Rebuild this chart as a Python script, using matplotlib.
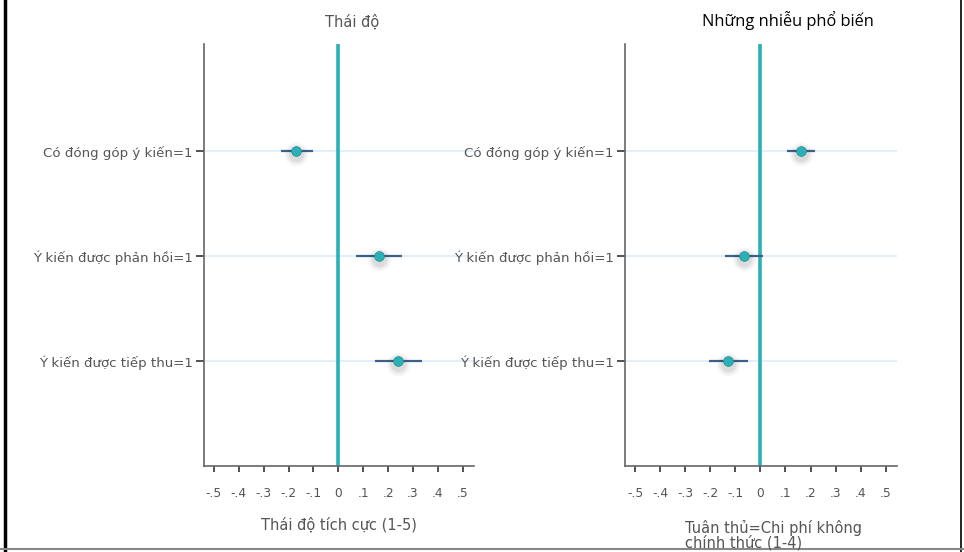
import matplotlib
matplotlib.use("Agg")
import matplotlib.pyplot as plt
from matplotlib.lines import Line2D
import numpy as np

plt.rcParams['font.family'] = ['DejaVu Sans']

categories = ["Có đóng góp ý kiến=1", "Ý kiến được phản hồi=1", "Ý kiến được tiếp thu=1"]
left_est = [-0.17, 0.165, 0.24]
left_lo = [-0.23, 0.072, 0.148]
left_hi = [-0.10, 0.256, 0.336]
right_est = [0.163, -0.067, -0.13]
right_lo = [0.106, -0.14, -0.205]
right_hi = [0.217, 0.01, -0.051]
xticks = [-0.5, -0.4, -0.3, -0.2, -0.1, 0, 0.1, 0.2, 0.3, 0.4, 0.5]
xticklabels = ["-.5", "-.4", "-.3", "-.2", "-.1", "0", ".1", ".2", ".3", ".4", ".5"]
left_title = "Thái độ"
right_title = "Những nhiễu phổ biến"
left_xlabel = "Thái độ tích cực (1-5)"
right_xlabel = "Tuân thủ=Chi phí không\nchính thức (1-4)"

W, H = 964, 552
fig = plt.figure(figsize=(W/100, H/100), dpi=100)

teal = "#2bb0b8"
grid_c = "#dcecf8"
err_c = "#3d5f8c"
txt_c = "#555555"

def panel(rect, est, lo, hi):
    ax = fig.add_axes(rect)
    y = np.arange(1, len(categories)+1)
    ax.set_xlim(-0.54, 0.545)
    ax.set_ylim(4.0, -0.02)
    for yy in y:
        ax.axhline(yy, color=grid_c, lw=1.2, zorder=0)
    ax.axvline(0, color=teal, lw=2.6, zorder=1)
    ax.hlines(y, lo, hi, color=err_c, lw=1.6, zorder=2)
    # shadow
    for s, a in [(17, 0.04), (14, 0.06), (11, 0.08)]:
        ax.plot(est, y + 0.03, 'o', ms=s, color='#333333', alpha=a, mec='none', zorder=3)
    ax.plot(est, y, 'o', ms=7, color=teal, mec='#1f8f8a', mew=0.5, zorder=4)
    ax.set_yticks(y)
    ax.set_yticklabels(categories, fontsize=9.6, color=txt_c)
    ax.set_xticks(xticks)
    ax.set_xticklabels(xticklabels, fontsize=8.8, color=txt_c)
    ax.tick_params(axis='x', direction='out', length=4, width=1.2, color='#333333', pad=11)
    ax.tick_params(axis='y', direction='out', length=6, width=1.2, color='#333333', pad=2)
    for s in ['top', 'right']:
        ax.spines[s].set_visible(False)
    ax.spines['left'].set_color('#666666')
    ax.spines['bottom'].set_color('#666666')
    ax.spines['left'].set_linewidth(1.2)
    ax.spines['bottom'].set_linewidth(1.2)
    return ax

ax1 = panel([204/W, 1-466/H, 270/W, 422/H], left_est, left_lo, left_hi)
ax2 = panel([625/W, 1-466/H, 272/W, 422/H], right_est, right_lo, right_hi)

fig.text(352/W, 1-22/H, left_title, ha='center', va='center', fontsize=10.5, color=txt_c)
fig.text(788/W, 1-20/H, right_title, ha='center', va='center', fontsize=11.8, color='black',
         family=['Open Sans', 'DejaVu Sans'])
fig.text(339/W, 1-525/H, left_xlabel, ha='center', va='center', fontsize=10.5, color=txt_c)
fig.text(685/W, 1-535/H, right_xlabel, ha='left', va='center', fontsize=10.5, color=txt_c,
         linespacing=0.95)

# frame lines
fig.add_artist(Line2D([5/W, 5/W], [0, 1], color='black', lw=2.5))
fig.add_artist(Line2D([961/W, 961/W], [0, 1], color='black', lw=1.2))
fig.add_artist(Line2D([0, 1], [3/H, 3/H], color='#888888', lw=1.5))

fig.savefig("out.png", dpi=100)
